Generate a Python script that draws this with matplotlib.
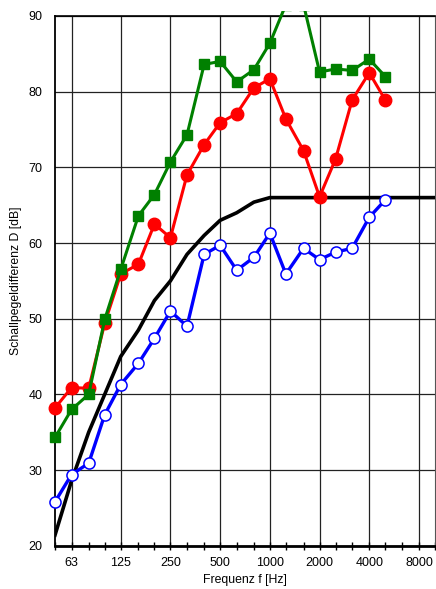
import matplotlib
matplotlib.use("Agg")
import matplotlib.pyplot as plt
from matplotlib.patches import Rectangle

plt.rcParams['font.family'] = ['Liberation Sans', 'DejaVu Sans']

# third-octave band centre frequencies
freqs = [50, 63, 80, 100, 125, 160, 200, 250, 315, 400, 500, 630, 800,
         1000, 1250, 1600, 2000, 2500, 3150, 4000, 5000]

green = [34.3, 38.0, 40.0, 49.9, 56.5, 63.6, 66.4, 70.7, 74.3, 83.6, 84.0,
         81.3, 82.9, 86.4, 91.5, 91.5, 82.6, 83.0, 82.8, 84.3, 82.0]
red = [38.2, 40.9, 40.8, 49.4, 55.9, 57.2, 62.5, 60.7, 69.0, 73.0, 75.9,
       77.1, 80.5, 81.7, 76.4, 72.2, 66.1, 71.1, 78.9, 82.5, 78.9]
blue = [25.8, 29.4, 30.9, 37.3, 41.3, 44.1, 47.4, 51.0, 49.0, 58.5, 59.7,
        56.4, 58.1, 61.3, 55.9, 59.3, 57.8, 58.8, 59.3, 63.4, 65.7]

# reference curve
ref_freqs = freqs + [6300, 8000, 10000]
ref_vals = [21.4, 28.6, 35.0, 40.0, 45.0, 48.5, 52.4, 55.0, 58.5, 61.0, 63.0,
            64.0, 65.4, 66.0, 66.0, 66.0, 66.0, 66.0, 66.0, 66.0, 66.0,
            66.0, 66.0, 66.0]

major_ticks = [63, 125, 250, 500, 1000, 2000, 4000, 8000]
minor_ticks = [50, 80, 100, 160, 200, 315, 400, 630, 800, 1250, 1600,
               2500, 3150, 5000, 6300, 10000]

fig = plt.figure(figsize=(4.36, 5.89), dpi=100)
ax = fig.add_axes([55 / 436, 1 - 545.7 / 589, 380 / 436, 529.7 / 589])

ax.set_xscale('log')
ax.set_xlim(50, 10000)
ax.set_ylim(20, 90)

ax.set_xticks(major_ticks)
ax.set_xticklabels([str(t) for t in major_ticks])
ax.set_xticks(minor_ticks, minor=True)
ax.set_xticklabels([], minor=True)
ax.set_yticks(range(20, 91, 10))

ax.grid(True, which='major', color='#222222', linewidth=0.9)
ax.set_axisbelow(True)

ax.tick_params(axis='x', which='both', direction='inout', length=6, width=1,
               labelsize=9, pad=5)
ax.tick_params(axis='y', length=0, labelsize=9, pad=9)

ax.spines['bottom'].set_linewidth(2)
ax.spines['left'].set_linewidth(1.3)
ax.spines['top'].set_linewidth(1.2)
ax.spines['right'].set_color('#555555')

# clip only at the top (a bit above 90 dB), markers at 50 Hz stay whole
clip = Rectangle((-0.05, -0.05), 1.1, 1.059, transform=ax.transAxes)

ax.plot(ref_freqs, ref_vals, color='black', linewidth=2.6, zorder=3)

lb, = ax.plot(freqs, blue, color='#0000ff', linewidth=2.4, marker='o',
              markersize=8, markerfacecolor='white', markeredgecolor='#0000ff',
              markeredgewidth=1.1, zorder=4)
lr, = ax.plot(freqs, red, color='#ff0000', linewidth=2.2, marker='o',
              markersize=9, zorder=5)
lg, = ax.plot(freqs, green, color='#008000', linewidth=2.2, marker='s',
              markersize=7, zorder=6)
for line in (lb, lr, lg):
    line.set_clip_path(clip)

ax.set_xlabel('Frequenz f [Hz]', fontsize=8.8, labelpad=4)
ax.set_ylabel('Schallpegeldifferenz D [dB]', fontsize=8.8, labelpad=5)

fig.savefig('out.png', dpi=100)
